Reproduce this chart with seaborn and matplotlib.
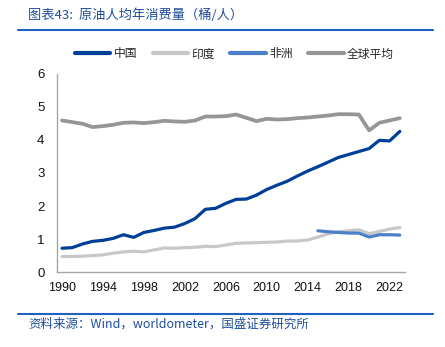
import numpy as np
import pandas as pd
import seaborn as sns
import matplotlib
matplotlib.use("Agg")
import matplotlib.pyplot as plt
from matplotlib.lines import Line2D

sns.set_style("white")
plt.rcParams['font.family'] = ['Noto Sans CJK SC', 'DejaVu Sans']

years = list(range(1990, 2024))
china = [0.72, 0.74, 0.85, 0.93, 0.96, 1.02, 1.13, 1.05, 1.20, 1.26, 1.33, 1.36, 1.47, 1.62, 1.90, 1.93,
         2.08, 2.20, 2.21, 2.33, 2.50, 2.63, 2.75, 2.91, 3.06, 3.19, 3.33, 3.47, 3.56, 3.65, 3.74, 3.99, 3.97, 4.26]
india = [0.47, 0.47, 0.48, 0.50, 0.52, 0.57, 0.61, 0.63, 0.61, 0.67, 0.73, 0.72, 0.74, 0.75, 0.78, 0.77,
         0.82, 0.87, 0.88, 0.89, 0.90, 0.91, 0.94, 0.94, 0.97, 1.06, 1.16, 1.22, 1.25, 1.28, 1.16, 1.23, 1.30, 1.35]
africa = [np.nan] * 25 + [1.25, 1.22, 1.20, 1.18, 1.18, 1.06, 1.13, 1.13, 1.12]
world = [4.59, 4.54, 4.49, 4.39, 4.42, 4.46, 4.52, 4.53, 4.51, 4.54, 4.58, 4.56, 4.55, 4.59, 4.71, 4.71,
         4.72, 4.77, 4.67, 4.57, 4.64, 4.62, 4.63, 4.66, 4.68, 4.71, 4.74, 4.78, 4.78, 4.77, 4.29, 4.52, 4.59, 4.66]
series_names = ['中国', '印度', '非洲', '全球平均']
colors = ['#003F98', '#C8C8C8', '#4A7FC9', '#969696']
title = '图表43:  原油人均年消费量（桶/人）'
source = '资料来源：Wind，worldometer，国盛证券研究所'
xtick_labels = list(range(1990, 2023, 4))
yticks = [0, 1, 2, 3, 4, 5, 6]

df = pd.DataFrame({'year': years, '中国': china, '印度': india, '非洲': africa, '全球平均': world})

fig = plt.figure(figsize=(4.45, 3.47), dpi=100)
ax = fig.add_axes([0.1279, 0.216, 0.910 - 0.1279, 0.787 - 0.216])

order = ['全球平均', '印度', '非洲', '中国']
lw = {'中国': 2.3, '印度': 2.3, '非洲': 2.3, '全球平均': 2.7}
for name in order:
    c = colors[series_names.index(name)]
    sub = df[['year', name]].dropna()
    sns.lineplot(data=sub, x='year', y=name, ax=ax, color=c, linewidth=lw[name], legend=False)

ax.set_xlim(1989.5, 2023.5)
ax.set_ylim(0, 6)
ax.set_xlabel('')
ax.set_ylabel('')
ax.set_xticks(xtick_labels)
ax.set_xticklabels([str(v) for v in xtick_labels], fontsize=9, family=['Liberation Sans'], color='#111111')
ax.set_xticks([v - 0.5 for v in xtick_labels[1:]], minor=True)
ax.tick_params(axis='x', which='major', length=0, pad=7)
ax.tick_params(axis='x', which='minor', length=3, direction='in', color='#A6A6A6', width=0.8)
ax.set_yticks(yticks)
ax.set_yticklabels([str(v) for v in yticks], fontsize=9.5, family=['Liberation Sans'], color='#111111')
ax.tick_params(axis='y', which='major', length=3, direction='in', color='#A6A6A6', width=0.8, pad=9)
for s in ['top', 'right']:
    ax.spines[s].set_visible(False)
for s in ['left', 'bottom']:
    ax.spines[s].set_color('#A6A6A6')
    ax.spines[s].set_linewidth(1.0)

handles = [Line2D([0], [0], color=colors[i], lw=3) for i in range(4)]
fig.legend(handles, series_names, loc='center', bbox_to_anchor=(0.527, 1 - 54 / 347), ncol=4,
           frameon=False, fontsize=8.5, handlelength=3.0, handletextpad=0.3, columnspacing=1.3)

fig.text(28 / 445, 1 - 15 / 347, title, fontsize=9.5, color='#1F4E9C', style='italic',
         va='center', ha='left')
fig.add_artist(Line2D([18 / 445, 433 / 445], [1 - 30 / 347, 1 - 30 / 347], color='#2060C0', lw=1.5))
fig.add_artist(Line2D([18 / 445, 433 / 445], [1 - 314 / 347, 1 - 314 / 347], color='#2060C0', lw=1.5))
fig.text(28 / 445, 1 - 324 / 347, source, fontsize=9, color='#1F4E9C', style='italic',
         va='center', ha='left')

fig.savefig('out.png', dpi=100)
